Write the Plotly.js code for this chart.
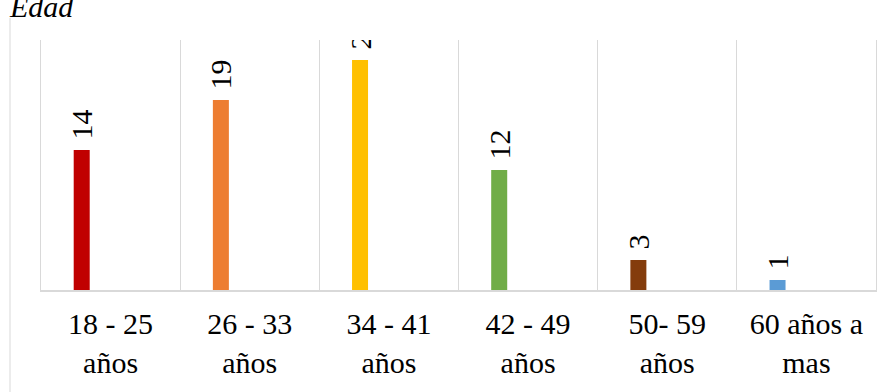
<!DOCTYPE html>
<html>
<head>
<meta charset="utf-8">
<script src="https://cdn.plot.ly/plotly-3.0.1.min.js"></script>
<style>html,body{margin:0;padding:0;background:#fff;}#chart{width:894px;height:392px;}</style>
</head>
<body>
<div id="chart"></div>
<script>
const categories = ["18 - 25<br>años", "26 - 33<br>años", "34 - 41<br>años", "42 - 49<br>años", "50- 59<br>años", "60 años a<br>mas"];
const values = [14, 19, 23, 12, 3, 1];
const barColors = ["#C00000", "#ED7D31", "#FFC000", "#70AD47", "#843C0C", "#5B9BD5"];
const chartTitle = "Edad";

const serif = "Liberation Serif, Times New Roman, serif";

const trace = {
  type: "bar",
  x: categories,
  y: values,
  marker: {color: barColors, line: {width: 0}},
  width: 0.115,
  offset: -0.265,
  text: values.map(v => "\u00a0" + v),
  textposition: "outside",
  textangle: -90,
  constraintext: "none",
  cliponaxis: true,
  textfont: {family: serif, size: 30, color: "#000"},
  hoverinfo: "skip"
};

const layout = {
  width: 894,
  height: 392,
  margin: {l: 41, r: 18, t: 40, b: 102},
  paper_bgcolor: "#fff",
  plot_bgcolor: "#fff",
  showlegend: false,
  font: {family: serif, color: "#000"},
  title: {
    text: "<i>" + chartTitle + "</i>",
    font: {family: serif, size: 30, color: "#000"},
    xref: "container", x: 10 / 894, xanchor: "left",
    yref: "container", y: 1 - 17 / 392, yanchor: "bottom"
  },
  xaxis: {
    type: "category",
    tickson: "boundaries",
    ticks: "",
    showgrid: true,
    gridcolor: "#d9d9d9",
    gridwidth: 1,
    showline: true,
    linecolor: "#d9d9d9",
    linewidth: 1.5,
    tickfont: {family: serif, size: 30, color: "#000"},
    ticklabelstandoff: 6,
    fixedrange: true
  },
  yaxis: {
    range: [0, 25],
    showgrid: false,
    zeroline: false,
    showticklabels: false,
    ticks: "",
    showline: true,
    mirror: true,
    linecolor: "#d9d9d9",
    linewidth: 1,
    fixedrange: true
  },
  shapes: [{
    type: "line",
    xref: "paper", yref: "paper",
    xsizemode: "pixel", xanchor: 0,
    ysizemode: "pixel", yanchor: 0,
    x0: -31, x1: -31, y0: -110, y1: 272,
    line: {color: "#d9d9d9", width: 1}
  }]
};

Plotly.newPlot("chart", [trace], layout, {displayModeBar: false, staticPlot: true});
</script>
</body>
</html>
